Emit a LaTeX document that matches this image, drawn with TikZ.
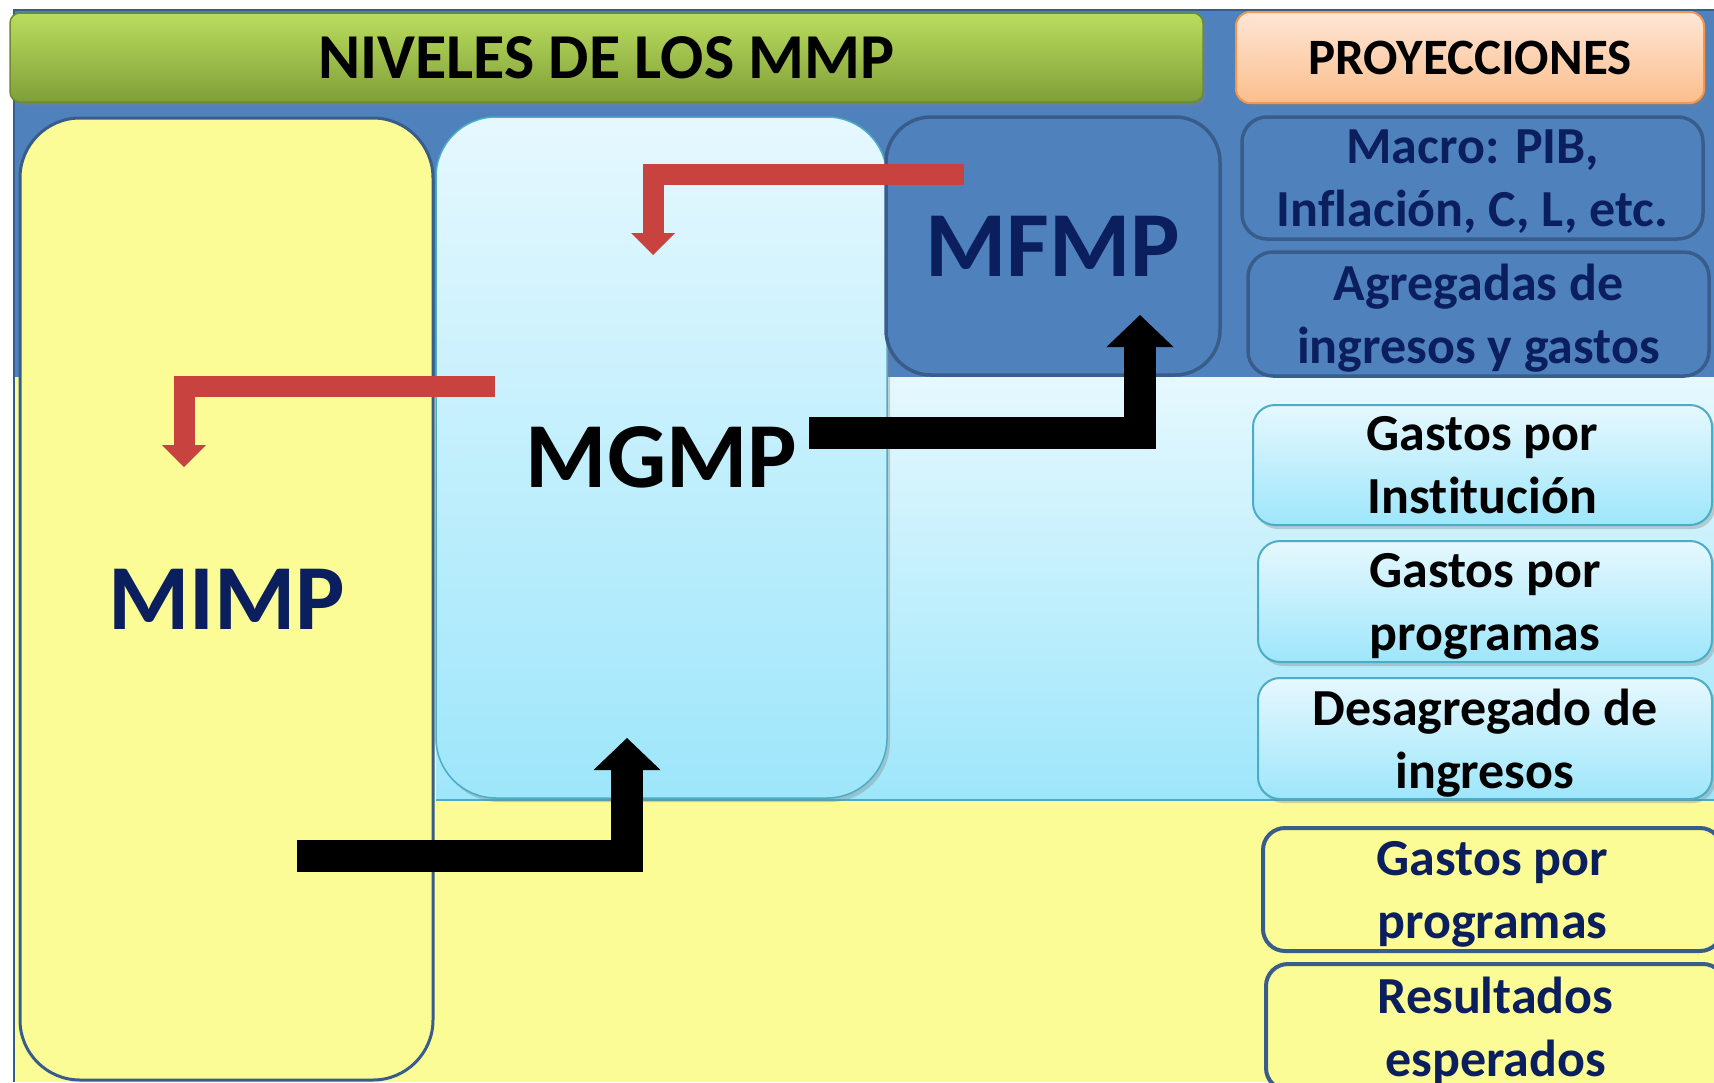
\documentclass[tikz,border=0pt]{standalone}
\usepackage{fontspec}
\setmainfont{Carlito}[Ligatures=NoCommon]
\usetikzlibrary{arrows.meta,shadows}
\definecolor{bluefill}{HTML}{4F81BD}
\definecolor{blueline}{HTML}{385D8A}
\definecolor{navy}{HTML}{0B1F5E}
\definecolor{yellowbg}{HTML}{FCFC96}
\definecolor{cyantop}{HTML}{E6F8FE}
\definecolor{cyanbot}{HTML}{9EE6FB}
\definecolor{cyanline}{HTML}{4BACC6}
\definecolor{greentop}{HTML}{BBDD5E}
\definecolor{greenbot}{HTML}{7F9F38}
\definecolor{greenline}{HTML}{6E8A32}
\definecolor{peachtop}{HTML}{FEE6D6}
\definecolor{peachbot}{HTML}{FBBE8C}
\definecolor{orangeline}{HTML}{F79646}
\definecolor{redarr}{HTML}{C8423F}
\tikzset{
  shadowed/.style={drop shadow={shadow xshift=3pt,shadow yshift=-4pt,opacity=0.35}},
  panel/.style={inner sep=0pt,align=center,font=\bfseries},
  bluebox/.style={panel,fill=bluefill,draw=blueline,line width=3.5pt,text=navy},
  cyanbox/.style={panel,top color=cyantop,bottom color=cyanbot,draw=cyanline,line width=2pt,text=black,shadowed},
  yelbox/.style={panel,fill=yellowbg,draw=blueline,line width=4pt,text=navy},
  small/.style={font=\bfseries\fontsize{52}{63}\selectfont,text depth=0pt},
  big/.style={font=\bfseries\fontsize{93}{100}\selectfont},
  redarrow/.style={draw=redarr,line width=21pt,line join=miter,-{Triangle[width=44pt,length=22pt,line width=0pt]}},
  blackarrow/.style={draw=black,line width=32pt,line join=miter,-{Triangle[width=67pt,length=32pt,line width=0pt]}}
}
\begin{document}
\begin{tikzpicture}[x=1pt,y=-1pt]
\useasboundingbox (0,0) rectangle (1714,1082);
\fill[white] (0,0) rectangle (1714,1082);
% background regions
\fill[yellowbg] (14,377) rectangle (1714,1082);
\fill[bluefill] (14,10) rectangle (1714,377);
\shade[top color=cyantop,bottom color=cyanbot] (436,377) rectangle (1714,800);
\draw[cyanline,line width=1.5pt] (436,800) -- (1714,800);
\draw[blueline,line width=2pt] (14,1082) -- (14,10) -- (1714,10);
% headers
\node[panel,shadowed,rounded corners=10pt,top color=greentop,bottom color=greenbot,draw=greenline,line width=1.5pt,
  minimum width=1193pt,minimum height=89pt,font=\bfseries\fontsize{64}{70}\selectfont] (title) at (606.5,57.5) {NIVELES DE LOS MMP};
\node[panel,shadowed,rounded corners=14pt,top color=peachtop,bottom color=peachbot,draw=orangeline,line width=2pt,
  minimum width=468pt,minimum height=91pt,font=\bfseries\fontsize{51}{60}\selectfont] (proy) at (1470,57.5) {PROYECCIONES};
% main columns
\node[panel,big,rounded corners=60pt,fill=yellowbg,draw=blueline,line width=3pt,text=navy,
  minimum width=413pt,minimum height=962pt] (mimp) at (226.5,599) {MIMP};
\node[panel,big,rounded corners=60pt,top color=cyantop,bottom color=cyanbot,draw=cyanline,line width=1.5pt,shadowed,
  minimum width=451pt,minimum height=681pt] (mgmp) at (661.5,457.5) {MGMP};
\node[bluebox,big,rounded corners=45pt,minimum width=334pt,minimum height=258pt] (mfmp) at (1053,246) {MFMP};
% right column
\node[bluebox,small,rounded corners=25pt,minimum width=461pt,minimum height=122pt] (macro) at (1472.5,178) {Macro: PIB,\\Inflación, C, L, etc.};
\node[bluebox,small,rounded corners=25pt,minimum width=461pt,minimum height=124pt] (agreg) at (1478.5,314) {Agregadas de\\ingresos y gastos};
\node[cyanbox,small,rounded corners=22pt,minimum width=459pt,minimum height=120pt] (inst) at (1482.5,465) {Gastos por\\Institución};
\node[cyanbox,small,rounded corners=22pt,minimum width=454pt,minimum height=121pt] (prog1) at (1485,601.5) {Gastos por\\programas};
\node[cyanbox,small,rounded corners=22pt,minimum width=454pt,minimum height=121pt] (desag) at (1485,738.5) {Desagregado de\\ingresos};
\node[yelbox,small,rounded corners=22pt,minimum width=459pt,minimum height=123pt] (prog2) at (1492.5,889.5) {Gastos por\\programas};
\node[yelbox,small,rounded corners=22pt,minimum width=459pt,minimum height=126pt] (result) at (1495.5,1027) {Resultados\\esperados};
% arrows
\coordinate (r1s) at (964,174);
\coordinate (r1e) at (653,255);
\coordinate (r2s) at (495,386);
\coordinate (r2e) at (184,467);
\coordinate (b1s) at (297,856);
\coordinate (b1e) at (627,738);
\coordinate (b2s) at (809,433);
\coordinate (b2e) at (1140,315);
\draw[redarrow] (r1s) -| (r1e);
\draw[redarrow] (r2s) -| (r2e);
\draw[blackarrow] (b1s) -| (b1e);
\draw[blackarrow] (b2s) -| (b2e);
\end{tikzpicture}
\end{document}
